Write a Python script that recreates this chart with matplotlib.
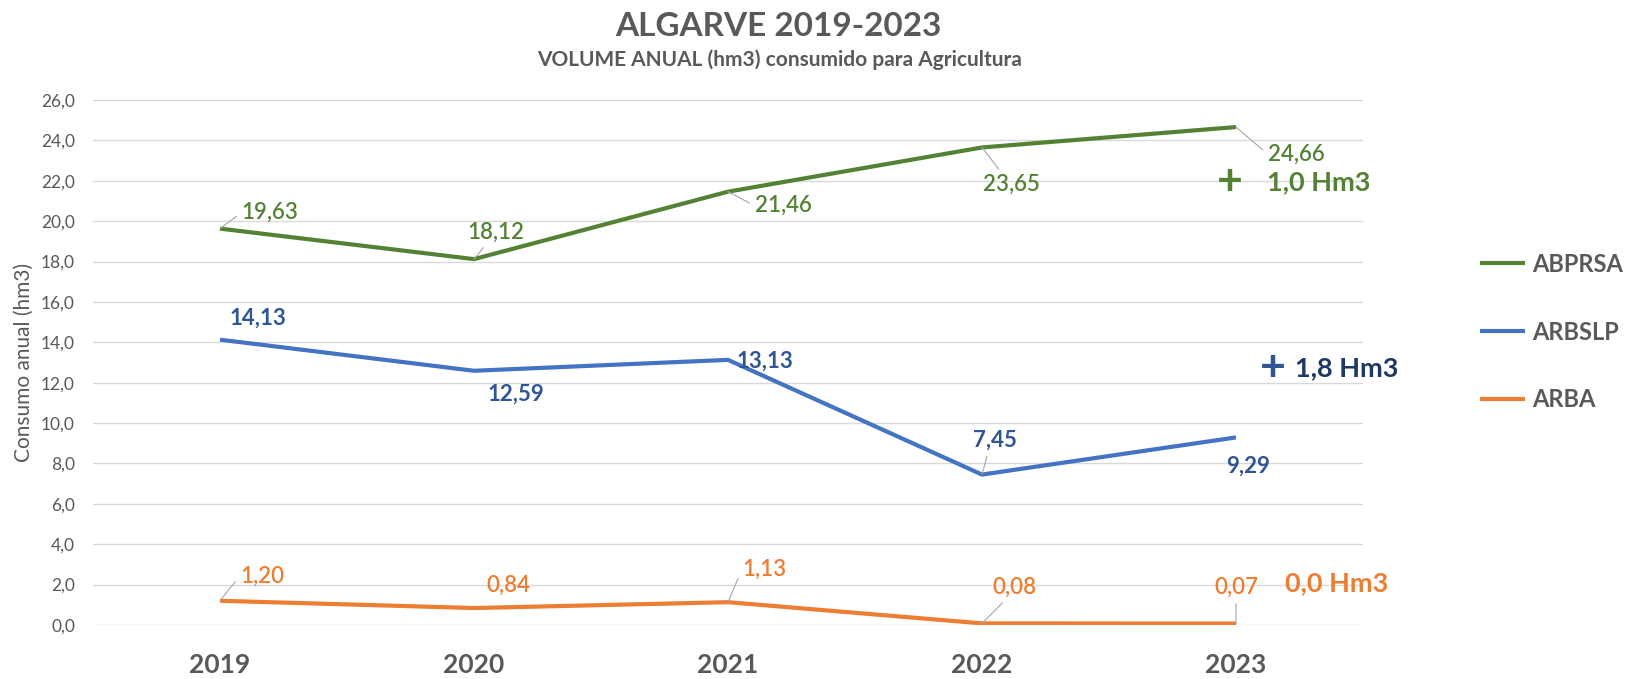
import matplotlib
matplotlib.use("Agg")
import matplotlib.pyplot as plt
from matplotlib.ticker import FuncFormatter

plt.rcParams['font.family'] = ['Lato', 'DejaVu Sans']

# dados
anos = ['2019', '2020', '2021', '2022', '2023']
abprsa = [19.63, 18.12, 21.46, 23.65, 24.66]
arbslp = [14.13, 12.59, 13.13, 7.45, 9.29]
arba = [1.20, 0.84, 1.13, 0.08, 0.07]

# deslocamento das etiquetas (pixels) e se tem linha de chamada
off_abprsa = [(50, 16), (22, 27), (55, -14), (29, -37), (60, -27)]
off_arbslp = [(38, 21), (42, -23), (37, -1), (13, 34), (12, -29)]
off_arba = [(42, 25), (34, 23), (36, 33), (32, 36), (0, 36)]
chamada_abprsa = [True, True, True, True, True]
chamada_arbslp = [False, False, False, True, False]
chamada_arba = [True, False, True, True, True]

cinza = '#595959'
verde = '#548235'
azul = '#4472c4'
azul_txt = '#2f5597'
laranja = '#ed7d31'

fig = plt.figure(figsize=(16.27, 6.79), dpi=100)
ax = fig.add_axes([93 / 1627, 1 - 625 / 679, 1270 / 1627, 525 / 679])

x = list(range(len(anos)))
ax.plot(x, abprsa, color=verde, lw=3, label='ABPRSA', solid_capstyle='butt')
ax.plot(x, arbslp, color=azul, lw=3, label='ARBSLP', solid_capstyle='butt')
ax.plot(x, arba, color=laranja, lw=3, label='ARBA', solid_capstyle='butt')


def etiquetas(valores, offs, chamadas, cor, peso):
    for i, v in enumerate(valores):
        txt = f'{v:.2f}'.replace('.', ',')
        dx, dy = offs[i]
        props = None
        if chamadas[i]:
            if dx > 35:
                rp = (0.0, 0.5)
            elif dy > 0:
                rp = (0.35 if dx else 0.5, 0.0)
            else:
                rp = (0.35, 1.0)
            props = dict(arrowstyle='-', color='#a6a6a6', lw=0.8,
                         shrinkA=2, shrinkB=0, relpos=rp)
        ax.annotate(txt, xy=(i, v), xytext=(dx, dy), textcoords='offset pixels',
                    ha='center', va='center', fontsize=16, color=cor,
                    fontweight=peso, arrowprops=props)


etiquetas(abprsa, off_abprsa, chamada_abprsa, verde, 'semibold')
etiquetas(arbslp, off_arbslp, chamada_arbslp, azul_txt, 'bold')
etiquetas(arba, off_arba, chamada_arba, laranja, 'semibold')

ax.set_xlim(-0.5, 4.5)
ax.set_ylim(0, 26)
ax.set_yticks([i * 2 for i in range(14)])
ax.yaxis.set_major_formatter(FuncFormatter(lambda v, p: f'{v:.1f}'.replace('.', ',')))
ax.set_xticks(x)
ax.set_xticklabels(anos, fontsize=19, fontweight='bold', color=cinza)
ax.tick_params(axis='x', length=0, pad=20)
ax.tick_params(axis='y', length=0, pad=13, labelsize=12.5, labelcolor=cinza)
ax.grid(axis='y', color='#d9d9d9', lw=1)
ax.set_axisbelow(True)
for s in ax.spines.values():
    s.set_visible(False)

ax.set_ylabel('Consumo anual (hm3)', fontsize=15, color=cinza)
ax.yaxis.set_label_coords(-0.0465, 0.5)

leg = ax.legend(loc='center left', bbox_to_anchor=(1468 / 1627, 1 - 332 / 679),
                bbox_transform=fig.transFigure, frameon=False, fontsize=17,
                labelspacing=1.9, handlelength=1.9, handletextpad=0.3,
                borderpad=0)
for t in leg.get_texts():
    t.set_color(cinza)
    t.set_fontweight('bold')

fig.text(778 / 1627, 1 - 27 / 679, 'ALGARVE 2019-2023', ha='center', va='center',
         fontsize=24, fontweight='bold', color=cinza)
fig.text(780 / 1627, 1 - 60 / 679, 'VOLUME ANUAL (hm3) consumido para Agricultura',
         ha='center', va='center', fontsize=15, fontweight='bold', color=cinza)

# diferencas 2022-2023
fig.text(1230 / 1627, 1 - 182 / 679, '+', ha='center', va='center',
         fontsize=32, fontweight='bold', color=verde)
fig.text(1267 / 1627, 1 - 182 / 679, '1,0 Hm3', ha='left', va='center',
         fontsize=19.5, fontweight='bold', color=verde)
fig.text(1273 / 1627, 1 - 368 / 679, '+', ha='center', va='center',
         fontsize=32, fontweight='bold', color=azul_txt)
fig.text(1295 / 1627, 1 - 368 / 679, '1,8 Hm3', ha='left', va='center',
         fontsize=19.5, fontweight='bold', color='#203864')
fig.text(1285 / 1627, 1 - 583 / 679, '0,0 Hm3', ha='left', va='center',
         fontsize=19.5, fontweight='bold', color=laranja)

fig.savefig('out.png', dpi=100, facecolor='white')
